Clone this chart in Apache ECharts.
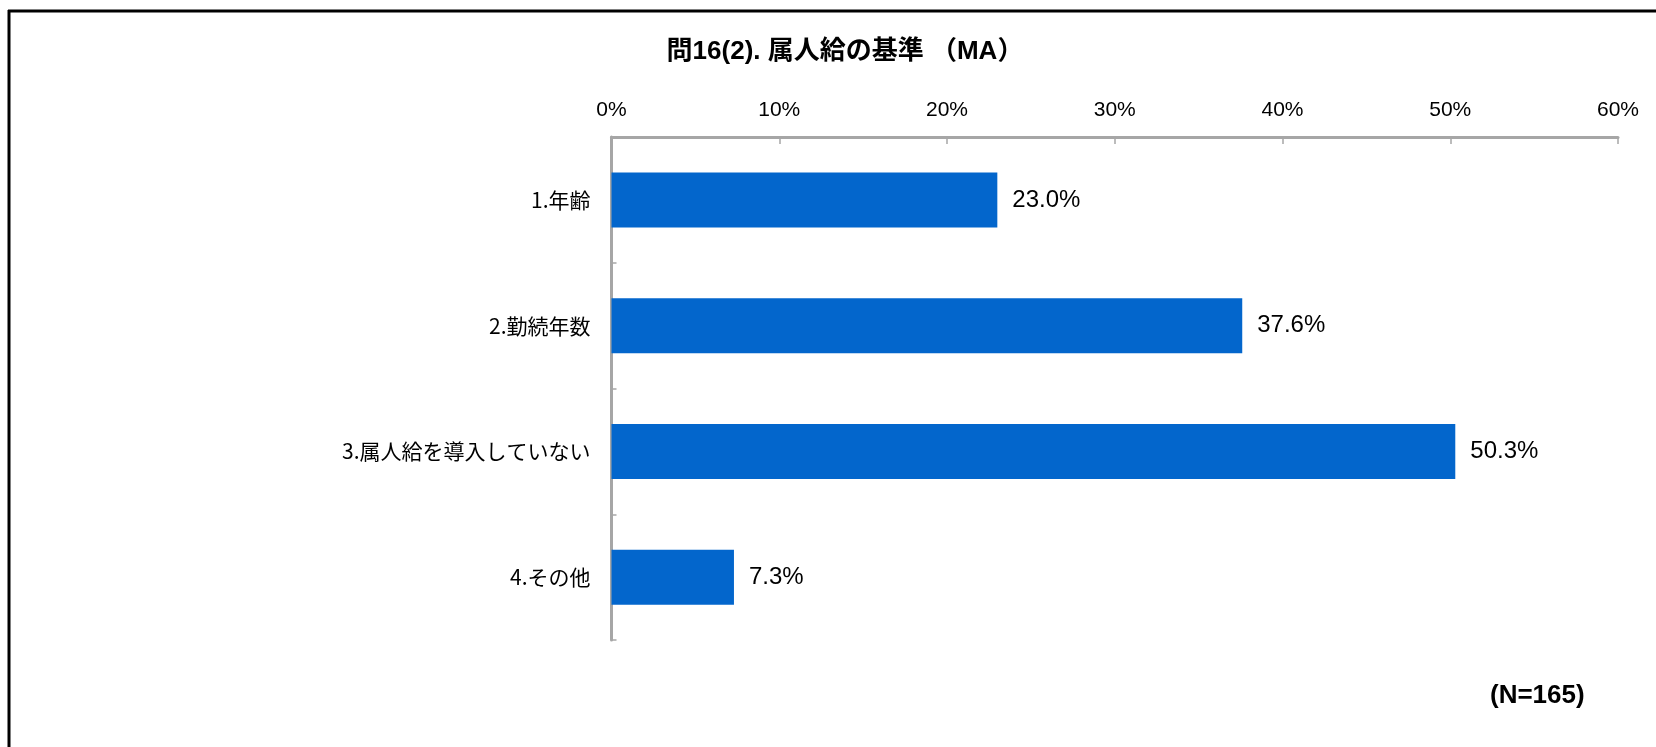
<!DOCTYPE html>
<html>
<head>
<meta charset="utf-8">
<script src="https://cdn.jsdelivr.net/npm/echarts@6/dist/echarts.min.js"></script>
<style>
html,body{margin:0;padding:0;background:#fff;}
#c{width:1656px;height:747px;}
</style>
</head>
<body>
<div id="c"></div>
<script>
const titleText = '問16(2). 属人給の基準 （MA）';
const categories = ['1.年齢', '2.勤続年数', '3.属人給を導入していない', '4.その他'];
const values = [23.0, 37.6, 50.3, 7.3];
const axisMin = 0, axisMax = 60, axisStep = 10;
const noteText = '(N=165)';

const chart = echarts.init(document.getElementById('c'));
chart.setOption({
  backgroundColor: '#ffffff',
  animation: false,
  title: {
    text: titleText,
    left: 840, top: 34, textAlign: 'center',
    textStyle: { fontFamily: 'Liberation Sans, Noto Sans CJK JP', fontWeight: 'bold', fontSize: 26, color: '#000' }
  },
  grid: { left: 611.5, right: 38, top: 137, bottom: 107, containLabel: false },
  xAxis: {
    type: 'value', position: 'top', min: axisMin, max: axisMax, interval: axisStep,
    axisLine: { show: true, lineStyle: { color: '#a6a6a6', width: 3 } },
    axisTick: { show: true, inside: true, length: 7, lineStyle: { color: '#a6a6a6', width: 1.5 } },
    splitLine: { show: false },
    axisLabel: { formatter: v => v + '%', fontFamily: 'Liberation Sans', fontSize: 21, color: '#000', margin: 16 }
  },
  yAxis: {
    type: 'category', data: categories, inverse: true,
    axisLine: { show: true, lineStyle: { color: '#a6a6a6', width: 3 } },
    axisTick: { show: true, inside: true, length: 5, lineStyle: { color: '#a6a6a6', width: 1.5 } },
    axisLabel: { fontFamily: 'Noto Sans CJK JP', fontSize: 21, color: '#000', margin: 21 }
  },
  series: [{
    type: 'bar', data: values, barWidth: 55,
    itemStyle: { color: '#0366cc' },
    label: { show: true, position: 'right', distance: 15, formatter: p => p.value.toFixed(1) + '%',
      fontFamily: 'Liberation Sans', fontSize: 24, color: '#000' }
  }],
  graphic: [
    { type: 'line', shape: { x1: 8, y1: 11, x2: 1656, y2: 11 }, style: { stroke: '#000', lineWidth: 3 } },
    { type: 'line', shape: { x1: 9, y1: 10, x2: 9, y2: 747 }, style: { stroke: '#000', lineWidth: 3 } },
    { type: 'text', left: 1490, top: 683, style: { text: noteText, fontFamily: 'Liberation Sans', fontWeight: 'bold', fontSize: 26, fill: '#000' } }
  ]
});
</script>
</body>
</html>
